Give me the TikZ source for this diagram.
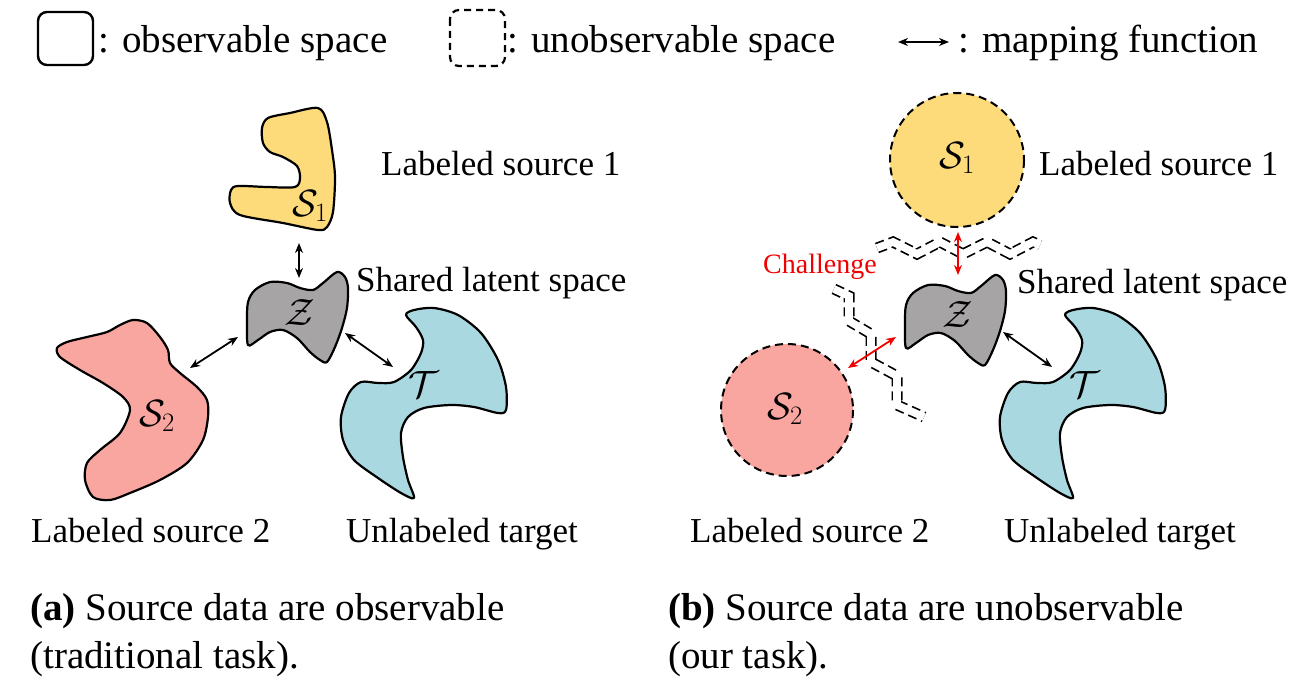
\RequirePackage{fix-cm}
\documentclass[tikz,border=0pt]{standalone}
\usepackage{fontspec}
\setmainfont{Liberation Serif}
\usetikzlibrary{arrows.meta}
\definecolor{syel}{RGB}{253,218,122}
\definecolor{spink}{RGB}{249,165,160}
\definecolor{zgray}{RGB}{166,164,164}
\definecolor{tblue}{RGB}{170,216,224}
\definecolor{cred}{RGB}{240,0,0}
\begin{document}
\begin{tikzpicture}[x=1pt,y=-1pt,
  blob/.style={draw=black, line width=2.2pt, line join=round},
  map/.style={line width=1.8pt, {Stealth[length=10pt,width=8pt]}-{Stealth[length=10pt,width=8pt]}},
  lbl/.style={font=\fontsize{35}{40}\selectfont, anchor=base west, inner sep=0pt},
  leg/.style={font=\fontsize{39}{44}\selectfont, anchor=base west, inner sep=0pt},
  captxt/.style={font=\fontsize{39}{47}\selectfont, anchor=base west, inner sep=0pt},
  mlbl/.style={font=\fontsize{38}{44}\selectfont, inner sep=0pt},
  wall/.style={draw=black, line width=11pt, dash pattern=on 9pt off 5pt, line join=miter,
     postaction={draw=white, line width=7.6pt, solid}},
  circ/.style={draw=black, line width=2pt, dash pattern=on 8pt off 5pt},
]
\useasboundingbox (0,0) rectangle (1308,682);

% ---------- legend ----------
\draw[line width=2.4pt, rounded corners=9pt] (38,12) rectangle (93,65);
\node[leg] (l1) at (98,53) {: observable space};
\draw[line width=2.2pt, dash pattern=on 7pt off 5pt, rounded corners=9pt] (450,10) rectangle (505,66);
\node[leg] (l2) at (507,53) {: unobservable space};
\coordinate (la) at (898,42);
\coordinate (lb) at (949,42);
\draw[map, line width=2.2pt] (la) -- (lb);
\node[leg] (l3) at (958,53) {: mapping function};

% ---------- panel (a) ----------
% S1
\filldraw[blob, fill=syel] plot[smooth cycle, tension=0.5] coordinates {
 (268,118) (290,113) (318,108) (327,122) (332,150) (335,177) (333,212) (327,227)
 (318,230) (283,223) (240,215) (230,203) (231,190) (238,186) (267,187) (295,187)
 (300,178) (297,166) (283,157) (270,152) (263,143) (262,128)};
\node[mlbl] (s1a) at (310,206) {$\mathcal{S}_1$};
% Z
\filldraw[blob, fill=zgray] plot[smooth cycle, tension=0.5] coordinates {
 (248,345) (247,322) (248,302) (255,290) (270,282) (287,283) (300,288) (313,290)
 (323,283) (337,272) (345,277) (348,288) (347,308) (342,328) (335,347) (327,362)
 (320,360) (310,352) (297,338) (283,330) (270,332) (258,340)};
\node[mlbl] (za) at (300,313) {$\mathcal{Z}$};
% S2
\filldraw[blob, fill=spink] plot[smooth cycle, tension=0.5] coordinates {
 (57,348) (67,342) (87,337) (107,332) (120,325) (133,320) (147,323) (160,337)
 (168,350) (170,363) (180,373) (197,387) (207,400) (208,417) (203,440) (187,463)
 (160,480) (130,493) (110,500) (93,497) (85,480) (87,463) (100,450) (120,433)
 (130,410) (123,397) (103,383) (80,370) (60,357)};
\node[mlbl] (s2a) at (157,416) {$\mathcal{S}_2$};
% T
\begin{scope}[shift={(-659,0)}]
\filldraw[blob, fill=tblue] plot[smooth cycle, tension=0.5] coordinates {
 (1065,315) (1073,310) (1093,308) (1117,315) (1140,333) (1157,360) (1165,387)
 (1165,410) (1157,413) (1133,407) (1110,405) (1083,408) (1067,417) (1060,433)
 (1062,457) (1067,480) (1073,498) (1060,493) (1037,478) (1013,460) (1002,440)
 (1000,417) (1008,393) (1020,382) (1037,383) (1053,382) (1070,370) (1080,353)
 (1082,340) (1075,327)};
\end{scope}
\node[mlbl] (ta) at (424,385) {$\mathcal{T}$};
% arrows (a)
\coordinate (a1s) at (299,243); \coordinate (a1z) at (299,278);
\coordinate (a2s) at (190,368); \coordinate (a2z) at (238,337);
\coordinate (a3z) at (345,333); \coordinate (a3t) at (393,367);
\draw[map] (a1s) -- (a1z);
\draw[map] (a2s) -- (a2z);
\draw[map] (a3z) -- (a3t);
% labels (a)
\node[lbl] (ls1a) at (381,175) {Labeled source 1};
\node[lbl] (lza) at (356,291) {Shared latent space};
\node[lbl] (ls2a) at (31,542) {Labeled source 2};
\node[lbl] (lta) at (346,542) {Unlabeled target};
\node[captxt] (ca1) at (30,620) {\textbf{(a)} Source data are observable};
\node[captxt] (ca2) at (30,668) {(traditional task).};

% ---------- panel (b) ----------
\filldraw[circ, fill=syel] (957,160) circle (67);
\node[mlbl] (s1b) at (957,158) {$\mathcal{S}_1$};
\filldraw[circ, fill=spink] (787,410) circle (66);
\node[mlbl] (s2b) at (785,409) {$\mathcal{S}_2$};
\begin{scope}[shift={(658,3)}]
\filldraw[blob, fill=zgray] plot[smooth cycle, tension=0.5] coordinates {
 (248,345) (247,322) (248,302) (255,290) (270,282) (287,283) (300,288) (313,290)
 (323,283) (337,272) (345,277) (348,288) (347,308) (342,328) (335,347) (327,362)
 (320,360) (310,352) (297,338) (283,330) (270,332) (258,340)};
\end{scope}
\node[mlbl] (zb) at (958,315) {$\mathcal{Z}$};
\filldraw[blob, fill=tblue] plot[smooth cycle, tension=0.5] coordinates {
 (1065,315) (1073,310) (1093,308) (1117,315) (1140,333) (1157,360) (1165,387)
 (1165,410) (1157,413) (1133,407) (1110,405) (1083,408) (1067,417) (1060,433)
 (1062,457) (1067,480) (1073,498) (1060,493) (1037,478) (1013,460) (1002,440)
 (1000,417) (1008,393) (1020,382) (1037,383) (1053,382) (1070,370) (1080,353)
 (1082,340) (1075,327)};
\node[mlbl] (tb) at (1085,385) {$\mathcal{T}$};
% walls
\draw[wall] (877,248) -- (893,242) -- (917,254) -- (940,242) -- (963,254)
  -- (987,242) -- (1010,254) -- (1033,242) -- (1040,245);
\draw[wall] (834,289) -- (849,296) -- (849,321) -- (871,334) -- (871,362)
  -- (897,376) -- (897,405) -- (924,417);
% arrows (b)
\coordinate (b1s) at (958,232); \coordinate (b1z) at (958,275);
\coordinate (b2s) at (848,368); \coordinate (b2z) at (896,337);
\coordinate (b3z) at (1003,332); \coordinate (b3t) at (1052,367);
\draw[map, cred] (b1s) -- (b1z);
\draw[map, cred] (b2s) -- (b2z);
\draw[map] (b3z) -- (b3t);
\node[font=\fontsize{28}{32}\selectfont, text=cred, anchor=base west, inner sep=0pt] (ch) at (763,273) {Challenge};
% labels (b)
\node[lbl] (ls1b) at (1039,175) {Labeled source 1};
\node[lbl] (lzb) at (1017,293) {Shared latent space};
\node[lbl] (ls2b) at (690,542) {Labeled source 2};
\node[lbl] (ltb) at (1004,542) {Unlabeled target};
\node[captxt] (cb1) at (668,620) {\textbf{(b)} Source data are unobservable};
\node[captxt] (cb2) at (668,668) {(our task).};
\end{tikzpicture}
\end{document}
